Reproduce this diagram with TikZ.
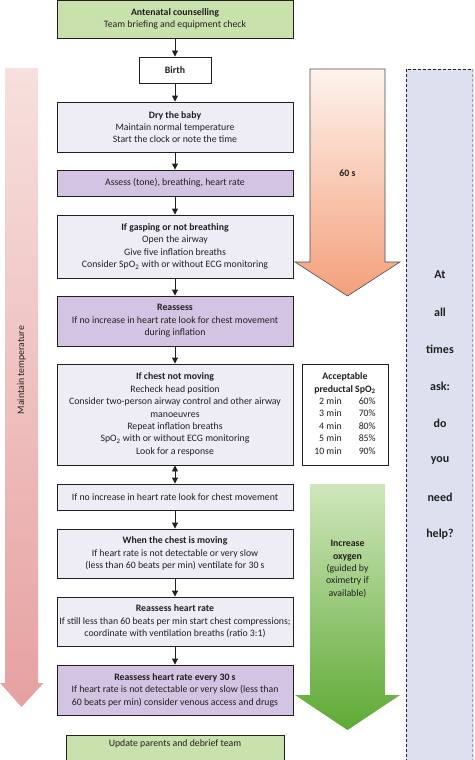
\documentclass[tikz,border=0pt]{standalone}
\usepackage{fontspec}
\setmainfont{Carlito}
\usetikzlibrary{arrows.meta}
\definecolor{linec}{HTML}{231F20}
\definecolor{greenbox}{HTML}{C9E2AD}
\definecolor{lavlight}{HTML}{EEEDF6}
\definecolor{lavdark}{HTML}{D2C4E2}
\definecolor{panelc}{HTML}{DDE1EF}
\definecolor{pinktop}{HTML}{F7E0DD}
\definecolor{pinkbot}{HTML}{E6A1A1}
\definecolor{orangetop}{HTML}{FDF3EC}
\definecolor{orangebot}{HTML}{F4A07C}
\definecolor{greentop}{HTML}{CFE6BC}
\definecolor{greenbot}{HTML}{5EAA34}
\tikzset{
  basebox/.style={draw=linec, line width=0.9pt, align=center, inner sep=2pt, text=linec,
    font={\fontsize{9.8pt}{12.4pt}\selectfont}, minimum width=236pt},
  lightbox/.style={basebox, fill=lavlight},
  darkbox/.style={basebox, fill=lavdark},
  gbox/.style={basebox, fill=greenbox},
  wbox/.style={basebox, fill=white},
  conn/.style={draw=linec, line width=0.9pt, -{Triangle[length=6pt,width=6pt]}},
  dconn/.style={draw=linec, line width=0.9pt, {Triangle[length=6pt,width=6pt]}-{Triangle[length=6pt,width=6pt]}},
  asktext/.style={font={\fontsize{12pt}{14pt}\selectfont\bfseries}, text=linec},
  sidetext/.style={font={\fontsize{9.8pt}{12.4pt}\selectfont}, text=linec, align=center}
}
\begin{document}
\begin{tikzpicture}[x=1pt,y=1pt]
\clip (0,0) rectangle (474,-760);
\useasboundingbox (0,0) rectangle (474,-760);
% right panel
\fill[panelc] (406,-69) rectangle (474,-762);
\draw[gray!70, densely dashed, line width=0.7pt] (472.5,-69) -- (472.5,-762);
\draw[linec, densely dashed, line width=0.8pt] (406,-762) -- (406,-69) -- (472.5,-69);
\foreach \w/\yy in {At/275, all/312, times/349, ask:/386, do/423, you/460, need/497, help?/534}
  \node[asktext] at (440,-\yy) {\w};
% left pink arrow
\shade[top color=pinktop, bottom color=pinkbot]
  (5,-68) -- (38,-68) -- (38,-683) -- (43.5,-683) -- (21.5,-707) -- (0,-683) -- (5,-683) -- cycle;
\node[sidetext, rotate=90] (maint) at (21.5,-370) {Maintain temperature};
% orange arrow
\shadedraw[top color=orangetop, bottom color=orangebot, draw=linec!80, line width=0.6pt]
  (310,-69) -- (385,-69) -- (385,-262) -- (400,-262) -- (347.5,-296) -- (295,-262) -- (310,-262) -- cycle;
\node[sidetext, font={\fontsize{9.8pt}{12.4pt}\selectfont\bfseries}] (sixty) at (347.5,-173) {60 s};
% green arrow
\shade[top color=greentop, bottom color=greenbot]
  (310,-484) -- (385,-484) -- (385,-695) -- (400,-695) -- (347.5,-730) -- (295,-695) -- (310,-695) -- cycle;
\node[sidetext] (oxy) at (347.5,-569) {\textbf{Increase}\\\textbf{oxygen}\\(guided by\\oximetry if\\available)};
% main boxes
\node[gbox, minimum height=38pt] (ante) at (175,-19) {\textbf{Antenatal counselling}\\Team briefing and equipment check};
\node[wbox, minimum width=72pt, minimum height=26pt] (birth) at (175,-70) {\textbf{Birth}};
\node[lightbox, minimum height=50pt] (dry) at (175,-127) {\textbf{Dry the baby}\\Maintain normal temperature\\Start the clock or note the time};
\node[darkbox, minimum height=26pt] (assess) at (175,-183) {Assess (tone), breathing, heart rate};
\node[lightbox, minimum height=63pt] (gasp) at (175,-246.5) {\textbf{If gasping or not breathing}\\Open the airway\\Give five inflation breaths\\Consider SpO\textsubscript{2} with or without ECG monitoring};
\node[darkbox, minimum height=50pt] (reass) at (175,-321) {\textbf{Reassess}\\If no increase in heart rate look for chest movement\\during inflation};
\node[lightbox, minimum height=101pt] (chest) at (175,-414.5) {\textbf{If chest not moving}\\Recheck head position\\Consider two-person airway control and other airway\\manoeuvres\\Repeat inflation breaths\\SpO\textsubscript{2} with or without ECG monitoring\\Look for a response};
\node[lightbox, minimum height=26pt] (noinc) at (175,-497) {If no increase in heart rate look for chest movement};
\node[lightbox, minimum height=49pt] (moving) at (175,-553.5) {\textbf{When the chest is moving}\\If heart rate is not detectable or very slow\\(less than 60 beats per min) ventilate for 30 s};
\node[lightbox, minimum height=49pt] (rhr) at (175,-621.5) {\textbf{Reassess heart rate}\\If still less than 60 beats per min start chest compressions;\\coordinate with ventilation breaths (ratio 3:1)};
\node[darkbox, minimum height=50pt] (every) at (175,-690) {\textbf{Reassess heart rate every 30 s}\\If heart rate is not detectable or very slow (less than\\60 beats per min) consider venous access and drugs};
\node[gbox, minimum width=218pt, anchor=north, text depth=30pt, inner ysep=4pt] (update) at (175,-735) {Update parents and debrief team};
% SpO2 table
\node[wbox, minimum width=86pt, minimum height=101pt, inner sep=1pt] (spo) at (345,-414.5) {%
\begin{tabular}{@{}r@{\hspace{12pt}}r@{}}
\multicolumn{2}{@{}c@{}}{\textbf{Acceptable}}\\
\multicolumn{2}{@{}c@{}}{\textbf{preductal SpO\textsubscript{2}}}\\
2 min & 60\%\\
3 min & 70\%\\
4 min & 80\%\\
5 min & 85\%\\
10 min & 90\%
\end{tabular}};
% connectors
\draw[conn] (ante) -- (birth);
\draw[conn] (birth) -- (dry);
\draw[conn] (dry) -- (assess);
\draw[conn] (assess) -- (gasp);
\draw[conn] (gasp) -- (reass);
\draw[conn] (reass) -- (chest);
\draw[dconn] (chest) -- (noinc);
\draw[conn] (noinc) -- (moving);
\draw[conn] (moving) -- (rhr);
\draw[conn] (rhr) -- (every);
\end{tikzpicture}
\end{document}
